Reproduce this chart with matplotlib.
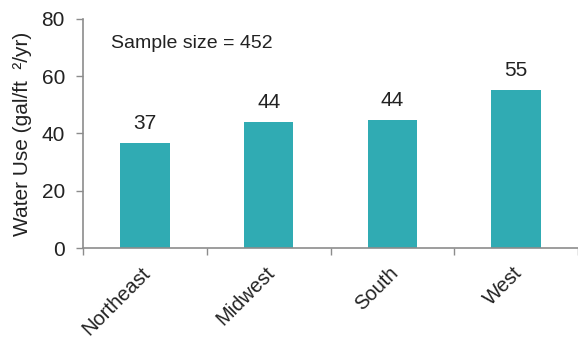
import matplotlib.pyplot as plt
import matplotlib.transforms as mtransforms
import numpy as np

plt.rcParams["font.family"] = ["Liberation Sans", "DejaVu Sans"]

regions = ["Northeast", "Midwest", "South", "West"]
water_use = [36.7, 44.0, 44.6, 55.3]
value_labels = ["37", "44", "44", "55"]
sample_size = 452

bar_color = "#30abb3"
axis_color = "#8c8c8c"
text_color = "#222222"

fig = plt.figure(figsize=(5.78, 3.37), dpi=100)
ax = fig.add_axes([0.1436, 0.264, 0.8564, 0.68])

x = np.arange(len(regions))
bars = ax.bar(x, water_use, width=0.4, color=bar_color)
for b, lab in zip(bars, value_labels):
    ax.annotate(lab, (b.get_x() + b.get_width() / 2, b.get_height()),
                xytext=(0, 14), textcoords="offset points",
                ha="center", va="center", fontsize=15, color=text_color)

ax.text(-0.27, 71.3, "Sample size = %d" % sample_size, fontsize=14,
        va="center", ha="left", color=text_color)

ax.set_xlim(-0.5, len(regions) - 0.5)
ax.set_ylim(0, 80)
ax.set_yticks([0, 20, 40, 60, 80])
ax.set_xticks(x)
ax.set_xticklabels(regions, rotation=45, ha="right", rotation_mode="anchor",
                   fontsize=14.5, color=text_color)
ax.tick_params(axis="x", length=0, pad=11)
# nudge category labels a little to the left
shift = mtransforms.ScaledTranslation(-4 / 100, 0, fig.dpi_scale_trans)
for lab in ax.get_xticklabels():
    lab.set_transform(lab.get_transform() + shift)
ax.set_xticks(np.arange(-0.5, len(regions), 1.0), minor=True)
ax.tick_params(axis="x", which="minor", length=5, color=axis_color, width=1)
ax.tick_params(axis="y", length=5, color=axis_color, labelsize=15,
               labelcolor=text_color, width=1, pad=8)
ax.set_ylabel("Water Use (gal/ft  \u00b2/yr)", fontsize=15, color=text_color,
              labelpad=7)

for s in ["top", "right"]:
    ax.spines[s].set_visible(False)
for s in ["left", "bottom"]:
    ax.spines[s].set_color(axis_color)
    ax.spines[s].set_linewidth(1.2)

fig.savefig("out.png", dpi=100)
